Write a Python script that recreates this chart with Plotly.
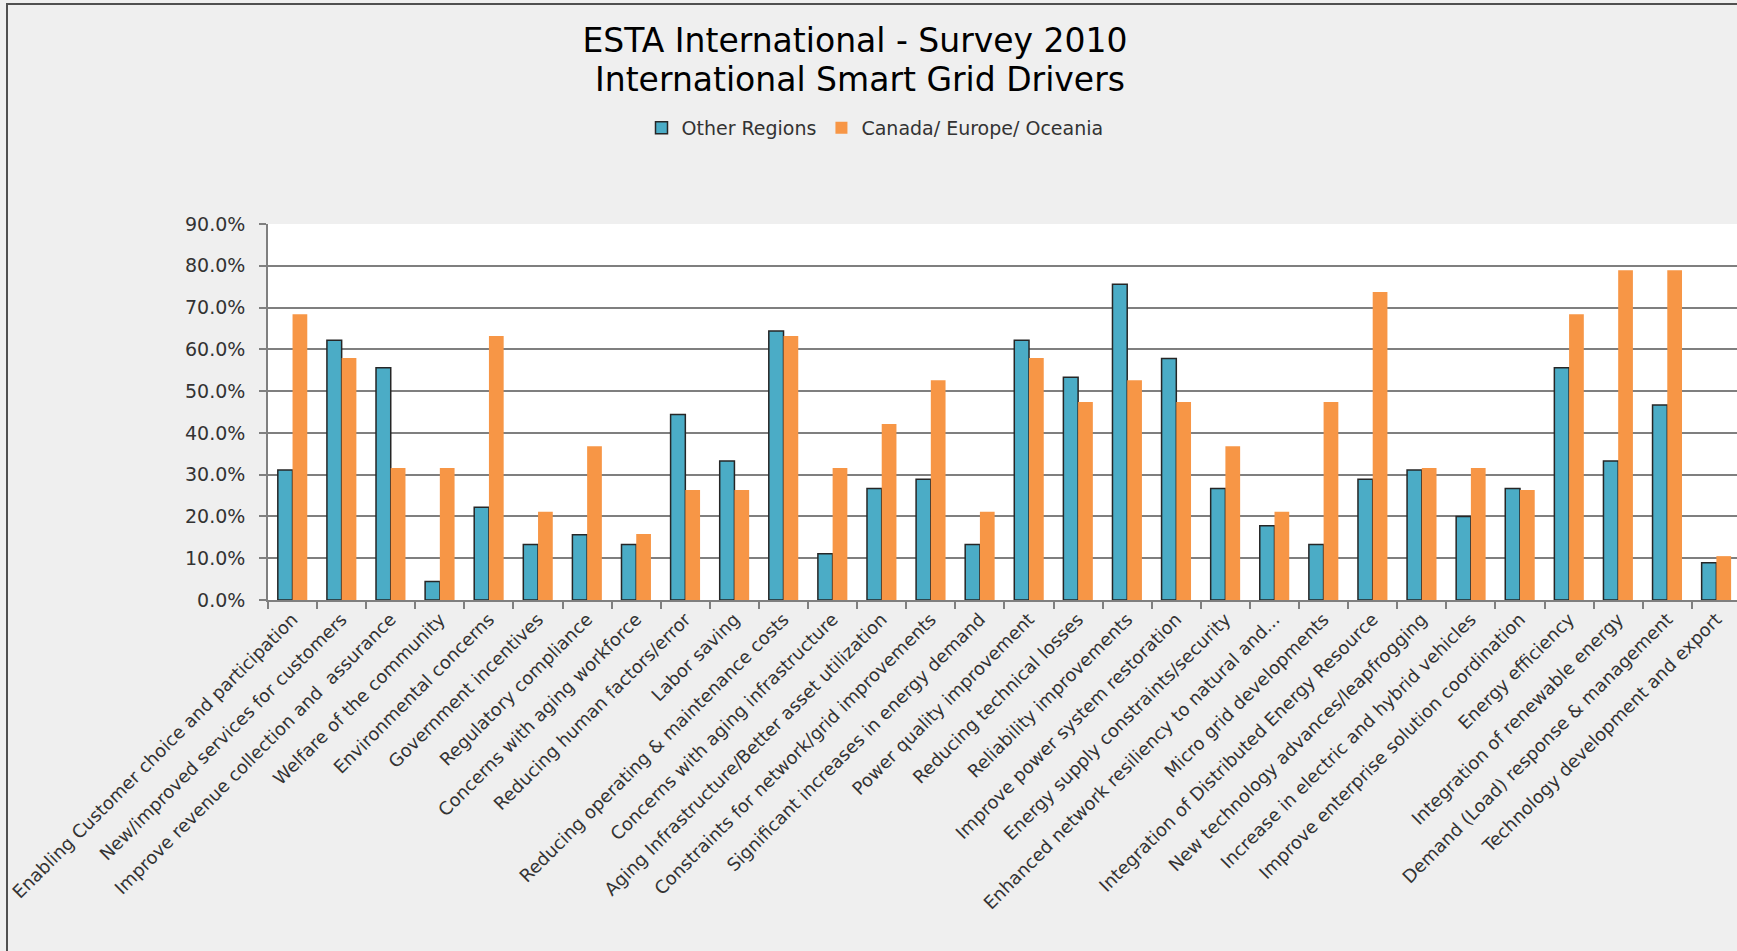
import plotly.graph_objects as go

categories = [
    "Enabling Customer choice and participation",
    "New/improved services for customers",
    "Improve revenue collection and  assurance",
    "Welfare of the community",
    "Environmental concerns",
    "Government incentives",
    "Regulatory compliance",
    "Concerns with aging workforce",
    "Reducing human factors/error",
    "Labor saving",
    "Reducing operating & maintenance costs",
    "Concerns with aging infrastructure",
    "Aging Infrastructure/Better asset utilization",
    "Constraints for network/grid improvements",
    "Significant increases in energy demand",
    "Power quality improvement",
    "Reducing technical losses",
    "Reliability improvements",
    "Improve power system restoration",
    "Energy supply constraints/security",
    "Enhanced network resiliency to natural and...",
    "Micro grid developments",
    "Integration of Distributed Energy Resource",
    "New technology advances/leapfrogging",
    "Increase in electric and hybrid vehicles",
    "Improve enterprise solution coordination",
    "Energy efficiency",
    "Integration of renewable energy",
    "Demand (Load) response & management",
    "Technology development and export",
]

other_regions = [31.1, 62.2, 55.6, 4.4, 22.2, 13.3, 15.6, 13.3, 44.4, 33.3,
                 64.4, 11.1, 26.7, 28.9, 13.3, 62.2, 53.3, 75.6, 57.8, 26.7,
                 17.8, 13.3, 28.9, 31.1, 20.0, 26.7, 55.6, 33.3, 46.7, 8.9]
canada_europe_oceania = [68.4, 57.9, 31.6, 31.6, 63.2, 21.1, 36.8, 15.8, 26.3, 26.3,
                         63.2, 31.6, 42.1, 52.6, 21.1, 57.9, 47.4, 52.6, 47.4, 36.8,
                         21.1, 47.4, 73.7, 31.6, 31.6, 26.3, 68.4, 78.9, 78.9, 10.5]

series_names = ["Other Regions", "Canada/ Europe/ Oceania"]
y_ticks = [0, 10, 20, 30, 40, 50, 60, 70, 80, 90]
y_tick_labels = ["0.0%", "10.0%", "20.0%", "30.0%", "40.0%", "50.0%",
                 "60.0%", "70.0%", "80.0%", "90.0%"]
title_line1 = "ESTA International - Survey 2010"
title_line2 = "International Smart Grid Drivers"

W, H = 1737, 951
L, R, T, B = 268, 0, 224, 351
pw, ph = W - L - R, H - T - B

def px_x(p):
    return (p - L) / pw

def px_y(p):
    return (H - B - p) / ph

FONT = "DejaVu Sans"
GRID = "#7f7f7f"
TXT = "#333333"

fig = go.Figure()
fig.add_trace(go.Bar(
    name=series_names[0], x=categories, y=other_regions,
    marker=dict(color="#4BACC6", line=dict(color="#262626", width=1.5)),
))
fig.add_trace(go.Bar(
    name=series_names[1], x=categories, y=canada_europe_oceania,
    marker=dict(color="#F79646", line=dict(width=0)),
))

fig.update_layout(
    template="none",
    width=W, height=H,
    margin=dict(l=L, r=R, t=T, b=B, pad=0),
    paper_bgcolor="#efefef",
    plot_bgcolor="#ffffff",
    barmode="group", bargap=0.4, bargroupgap=0,
    font=dict(family=FONT, color=TXT),
    title=dict(
        text=title_line1,
        font=dict(family=FONT, size=33, color="#000000"),
        xref="container", x=855 / W, xanchor="center",
        yref="container", y=1 - 40 / H, yanchor="middle",
    ),
    annotations=[
        dict(text=title_line2, xref="paper", yref="paper",
             x=px_x(860), y=px_y(80), xanchor="center", yanchor="middle",
             showarrow=False, font=dict(family=FONT, size=33, color="#000000")),
    ],
    legend=dict(
        orientation="h",
        xref="container", x=875 / W, xanchor="center",
        yref="container", y=1 - 128 / H, yanchor="middle",
        font=dict(family=FONT, size=19, color=TXT),
        bgcolor="rgba(0,0,0,0)",
        itemwidth=30,
    ),
    xaxis=dict(
        type="category",
        range=[-0.5, 29.42],
        showline=True, linecolor=GRID, linewidth=1.6,
        ticks="outside", tickson="boundaries", ticklen=7, tickcolor=GRID, tickwidth=1.5,
        tickangle=-45,
        tickfont=dict(family=FONT, size=18, color=TXT),
        showgrid=False, zeroline=False, automargin=False,
    ),
    yaxis=dict(
        range=[0, 90],
        tickmode="array", tickvals=y_ticks, ticktext=y_tick_labels,
        showgrid=True, gridcolor=GRID, gridwidth=1.6,
        showline=True, linecolor=GRID, linewidth=1.6,
        ticks="outside", ticklen=7, tickcolor=GRID, tickwidth=1.5,
        tickfont=dict(family=FONT, size=19, color=TXT),
        ticklabelstandoff=10,
        zeroline=False, automargin=False,
    ),
    shapes=[
        dict(type="line", xref="paper", yref="paper",
             x0=px_x(7), x1=px_x(7), y0=px_y(4), y1=px_y(H + 2),
             line=dict(color="#505050", width=2)),
        dict(type="line", xref="paper", yref="paper",
             x0=px_x(6), x1=px_x(W + 2), y0=px_y(4), y1=px_y(4),
             line=dict(color="#505050", width=2)),
    ],
)

fig.write_html("out.html")
